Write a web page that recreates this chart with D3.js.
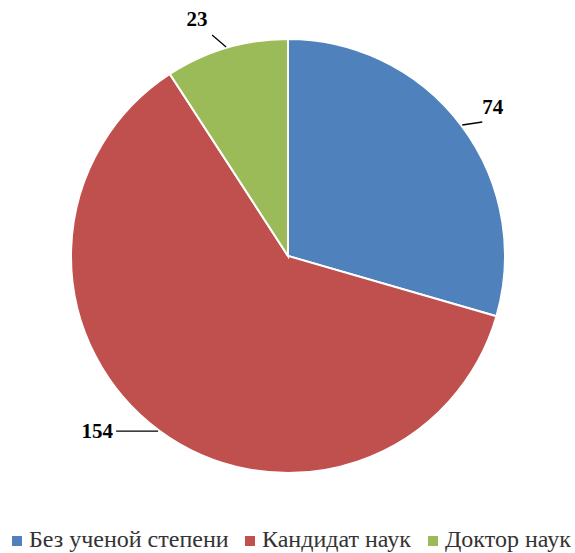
<!DOCTYPE html>
<html>
<head>
<meta charset="utf-8">
<script src="https://cdn.jsdelivr.net/npm/d3@7"></script>
<style>
  body { margin: 0; background: #fff; }
  svg { display: block; }
</style>
</head>
<body>
<svg id="chart"></svg>
<script>
var width = 575, height = 553;

// data
var categories = ["Без ученой степени", "Кандидат наук", "Доктор наук"];
var values = [74, 154, 23];
var colors = ["#4f81bd", "#c0504d", "#9bbb59"];

var cx = 288, cy = 256, radius = 217;
var serif = "Liberation Serif, DejaVu Serif, serif";

var svg = d3.select("#chart")
    .attr("width", width)
    .attr("height", height);

var pie = d3.pie().sort(null).value(function (d) { return d; });
var arcs = pie(values);

var arc = d3.arc().innerRadius(0).outerRadius(radius);

var g = svg.append("g")
    .attr("transform", "translate(" + cx + "," + cy + ")");

g.selectAll("path.slice")
    .data(arcs)
    .enter().append("path")
    .attr("class", "slice")
    .attr("d", arc)
    .attr("fill", function (d, i) { return colors[i]; })
    .attr("stroke", "#fff")
    .attr("stroke-width", 2);

// leader lines + labels; the label sits a bit outside the slice mid-angle
function pt(a, r) { return [r * Math.sin(a), -r * Math.cos(a)]; }

var leaders = [
    {dx: 20, dy: -3, anchor: "start", tx: 0, ty: -8},    // 74
    {dx: -42, dy: 0, anchor: "end", tx: -3, ty: 7},      // 154
    {dx: -14, dy: -12, anchor: "middle", tx: -15, ty: -9} // 23
];

arcs.forEach(function (d, i) {
    var mid = (d.startAngle + d.endAngle) / 2;
    var p0 = pt(mid, radius + 1);
    var lf = leaders[i];
    var p1 = [p0[0] + lf.dx, p0[1] + lf.dy];
    g.append("line")
        .attr("x1", p0[0]).attr("y1", p0[1])
        .attr("x2", p1[0]).attr("y2", p1[1])
        .attr("stroke", "#000")
        .attr("stroke-width", 1.3);
    g.append("text")
        .attr("x", p1[0] + lf.tx)
        .attr("y", p1[1] + lf.ty)
        .attr("text-anchor", lf.anchor)
        .attr("font-family", serif)
        .attr("font-weight", "bold")
        .attr("font-size", 21)
        .attr("fill", "#000")
        .text(values[i]);
});

// legend
var legendX = [29, 262, 445];
var legend = svg.append("g");
categories.forEach(function (c, i) {
    legend.append("rect")
        .attr("x", legendX[i] - 17).attr("y", 536)
        .attr("width", 10).attr("height", 10)
        .attr("fill", colors[i]);
    legend.append("text")
        .attr("x", legendX[i]).attr("y", 547)
        .attr("font-family", serif)
        .attr("font-size", 24)
        .attr("fill", "#333")
        .text(c);
});
</script>
</body>
</html>
